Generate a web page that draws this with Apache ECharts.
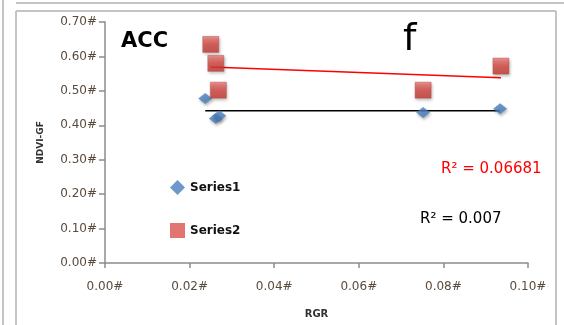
<!DOCTYPE html>
<html>
<head>
<meta charset="utf-8">
<script src="https://cdn.jsdelivr.net/npm/echarts@6/dist/echarts.min.js"></script>
<style>html,body{margin:0;padding:0;background:#fff;}#c{width:564px;height:325px;}</style>
</head>
<body>
<div id="c"></div>
<script>
// Data
var series1X = [0.0237, 0.0262, 0.0270, 0.0752, 0.0934];
var series1Y = [0.478, 0.420, 0.428, 0.437, 0.448];
var series2X = [0.0250, 0.0262, 0.0268, 0.0752, 0.0936];
var series2Y = [0.635, 0.580, 0.502, 0.502, 0.572];
var seriesNames = ['Series1', 'Series2'];
var r2Labels = ['R\u00B2 = 0.007', 'R\u00B2 = 0.06681'];
var panelLabel = 'ACC';
var panelLetter = 'f';
var xName = 'RGR';
var yName = 'NDVI-GF';
var xTicks = [0, 0.02, 0.04, 0.06, 0.08, 0.10];
var yTicks = [0, 0.1, 0.2, 0.3, 0.4, 0.5, 0.6, 0.7];

function pairs(xs, ys) { return xs.map(function (x, i) { return [x, ys[i]]; }); }
function trend(xs, ys) {
  var n = xs.length, mx = 0, my = 0;
  for (var i = 0; i < n; i++) { mx += xs[i]; my += ys[i]; }
  mx /= n; my /= n;
  var sxy = 0, sxx = 0;
  for (i = 0; i < n; i++) { sxy += (xs[i] - mx) * (ys[i] - my); sxx += (xs[i] - mx) * (xs[i] - mx); }
  var b = sxy / sxx, a = my - b * mx;
  var x0 = Math.min.apply(null, xs), x1 = Math.max.apply(null, xs);
  return [[x0, a + b * x0], [x1, a + b * x1]];
}

var chart = echarts.init(document.getElementById('c'), null, {renderer: 'canvas'});
var labelColor = '#5a4a3c';
var axisColor = '#8c8c8c';
var font = 'DejaVu Sans';

chart.setOption({
  animation: false,
  backgroundColor: '#fff',
  grid: {left: 105, right: 36, top: 22, bottom: 62, containLabel: false},
  xAxis: {
    type: 'value', min: xTicks[0], max: xTicks[xTicks.length - 1], interval: 0.02,
    name: xName, nameLocation: 'middle', nameGap: 46,
    nameTextStyle: {fontFamily: font, fontSize: 10, fontWeight: 'bold', color: '#333'},
    axisLine: {lineStyle: {color: axisColor, width: 1.5}},
    axisTick: {show: true, length: 5, lineStyle: {color: axisColor, width: 1.5}},
    splitLine: {show: false},
    axisLabel: {margin: 18, fontFamily: font, fontSize: 12, color: labelColor,
      formatter: function (v) { return v.toFixed(2) + '#'; }}
  },
  yAxis: {
    type: 'value', min: yTicks[0], max: yTicks[yTicks.length - 1], interval: 0.1,
    name: yName, nameLocation: 'middle', nameGap: 60, nameRotate: 90,
    nameTextStyle: {fontFamily: font, fontSize: 9, fontWeight: 'bold', color: '#333'},
    axisLine: {show: true, lineStyle: {color: axisColor, width: 1.5}},
    axisTick: {show: true, length: 6, lineStyle: {color: axisColor, width: 1.5}},
    splitLine: {show: false},
    axisLabel: {margin: 8, fontFamily: font, fontSize: 12, color: labelColor,
      formatter: function (v) { return v.toFixed(2) + '#'; }}
  },
  legend: {
    data: [
      {name: seriesNames[0], icon: 'diamond', itemStyle: {color: '#4a7ebb'}},
      {name: seriesNames[1], icon: 'rect', itemStyle: {color: '#d9534f', borderWidth: 0}}
    ],
    orient: 'vertical', left: 165, top: 175, itemGap: 28, itemWidth: 15, itemHeight: 15,
    textStyle: {fontFamily: font, fontSize: 12, fontWeight: 'bold', color: '#111'}
  },
  series: [
    {
      name: seriesNames[0] + ' trend', type: 'line', data: trend(series1X, series1Y),
      showSymbol: false, symbol: 'none', lineStyle: {color: '#000', width: 1.5}, z: 2, silent: true
    },
    {
      name: seriesNames[1] + ' trend', type: 'line', data: trend(series2X, series2Y),
      showSymbol: false, symbol: 'none', lineStyle: {color: '#ff0000', width: 1.5}, z: 2, silent: true
    },
    {
      name: seriesNames[0], type: 'scatter', data: pairs(series1X, series1Y),
      symbol: 'diamond', symbolSize: [14, 11], z: 3,
      itemStyle: {color: '#4a7ebb', shadowColor: 'rgba(0,0,0,0.35)', shadowBlur: 3, shadowOffsetX: 1, shadowOffsetY: 2}
    },
    {
      name: seriesNames[1], type: 'scatter', data: pairs(series2X, series2Y),
      symbol: 'rect', symbolSize: 16, z: 4,
      itemStyle: {
        color: new echarts.graphic.LinearGradient(0, 0, 0, 1, [
          {offset: 0, color: '#ec7f7b'}, {offset: 0.5, color: '#d6453f'}, {offset: 1, color: '#c0392f'}
        ]),
        borderColor: '#b94a47', borderWidth: 0.6,
        shadowColor: 'rgba(0,0,0,0.35)', shadowBlur: 3, shadowOffsetX: 1, shadowOffsetY: 2
      }
    }
  ],
  graphic: [
    {type: 'line', shape: {x1: 3, y1: 0, x2: 3, y2: 325}, style: {stroke: '#c4c4c4', lineWidth: 2}, silent: true},
    {type: 'line', shape: {x1: 16, y1: 3, x2: 564, y2: 3}, style: {stroke: '#c4c4c4', lineWidth: 2}, silent: true},
    {type: 'line', shape: {x1: 16, y1: 11, x2: 16, y2: 325}, style: {stroke: '#c4c4c4', lineWidth: 2}, silent: true},
    {type: 'line', shape: {x1: 16, y1: 11, x2: 556, y2: 11}, style: {stroke: '#c4c4c4', lineWidth: 2}, silent: true},
    {type: 'line', shape: {x1: 556, y1: 11, x2: 556, y2: 325}, style: {stroke: '#c4c4c4', lineWidth: 2}, silent: true},
    {type: 'text', left: 121, top: 31, style: {text: panelLabel, font: 'bold 21px "DejaVu Sans"', fill: '#000'}},
    {type: 'text', left: 403, top: 21, style: {text: panelLetter, font: '38px "DejaVu Sans"', fill: '#000'}},
    {type: 'text', left: 441, top: 162, style: {text: r2Labels[1], font: '15px "DejaVu Sans"', fill: '#ff0000'}},
    {type: 'text', left: 420, top: 212, style: {text: r2Labels[0], font: '15px "DejaVu Sans"', fill: '#000'}}
  ]
});
</script>
</body>
</html>
